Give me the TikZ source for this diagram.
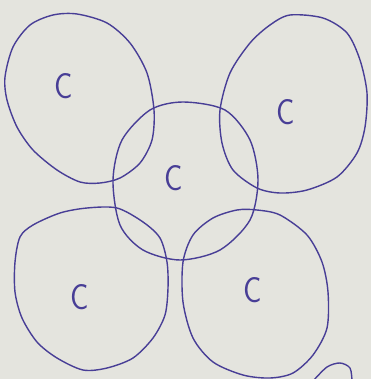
\documentclass[tikz,border=0pt]{standalone}
\usepackage{tikz}
\usetikzlibrary{calc, positioning}

\definecolor{ink}{RGB}{72,62,150}
\definecolor{paper}{RGB}{228,228,222}

\tikzset{
  pen/.style={ink, line width=1.4pt, line cap=round, line join=round},
  cellC/.style={ink, font=\sffamily\fontsize{36}{38}\selectfont, inner sep=0pt, xscale=0.85}
}

\begin{document}
\begin{tikzpicture}[x=1pt, y=-1pt]
% paper
\fill[paper] (0,0) rectangle (371,379);
\useasboundingbox (0,0) rectangle (371,379);

% top left
\draw[pen] plot[smooth cycle] coordinates {
  (30,25) (53,15) (77,14) (107,23) (130,43) (147,73) (154,110) (152,140)
  (140,163) (120,178) (100,183) (80,182) (57,170) (33,150) (17,127)
  (7,100) (5,77) (13,47)};
% top right
\draw[pen] plot[smooth cycle] coordinates {
  (290,15) (323,18) (347,33) (360,60) (367,93) (365,127) (357,153)
  (337,177) (307,190) (280,193) (257,188) (233,170) (222,143) (220,110)
  (230,73) (250,43) (270,25)};
% middle
\draw[pen] plot[smooth cycle] coordinates {
  (183,102) (225,110) (250,140) (258,180) (250,220) (220,250) (180,260)
  (143,250) (120,225) (113,180) (122,140) (150,110)};
% bottom left
\draw[pen] plot[smooth cycle] coordinates {
  (20,237) (33,225) (60,213) (87,208) (117,208) (143,222) (160,238)
  (167,262) (168,288) (165,315) (153,338) (133,358) (107,368) (83,370)
  (57,358) (37,342) (22,318) (15,292) (15,262)};
% bottom right
\draw[pen] plot[smooth cycle] coordinates {
  (257,210) (280,215) (307,235) (322,262) (328,292) (327,328) (313,355)
  (293,373) (270,378) (243,375) (213,362) (193,338) (183,302) (183,262)
  (193,235) (213,218) (237,210)};
% bit of the next one
\draw[pen] plot[smooth] coordinates {
  (313,381) (327,367) (340,363) (350,368) (352,381)};

\node[cellC] (cTL) at (64,86) {C};
\node[cellC] (cTR) at (286,112) {C};
\node[cellC] (cMid) at (174,178) {C};
\node[cellC] (cBL) at (80,297) {C};
\node[cellC] (cBR) at (253,290) {C};
\end{tikzpicture}
\end{document}
